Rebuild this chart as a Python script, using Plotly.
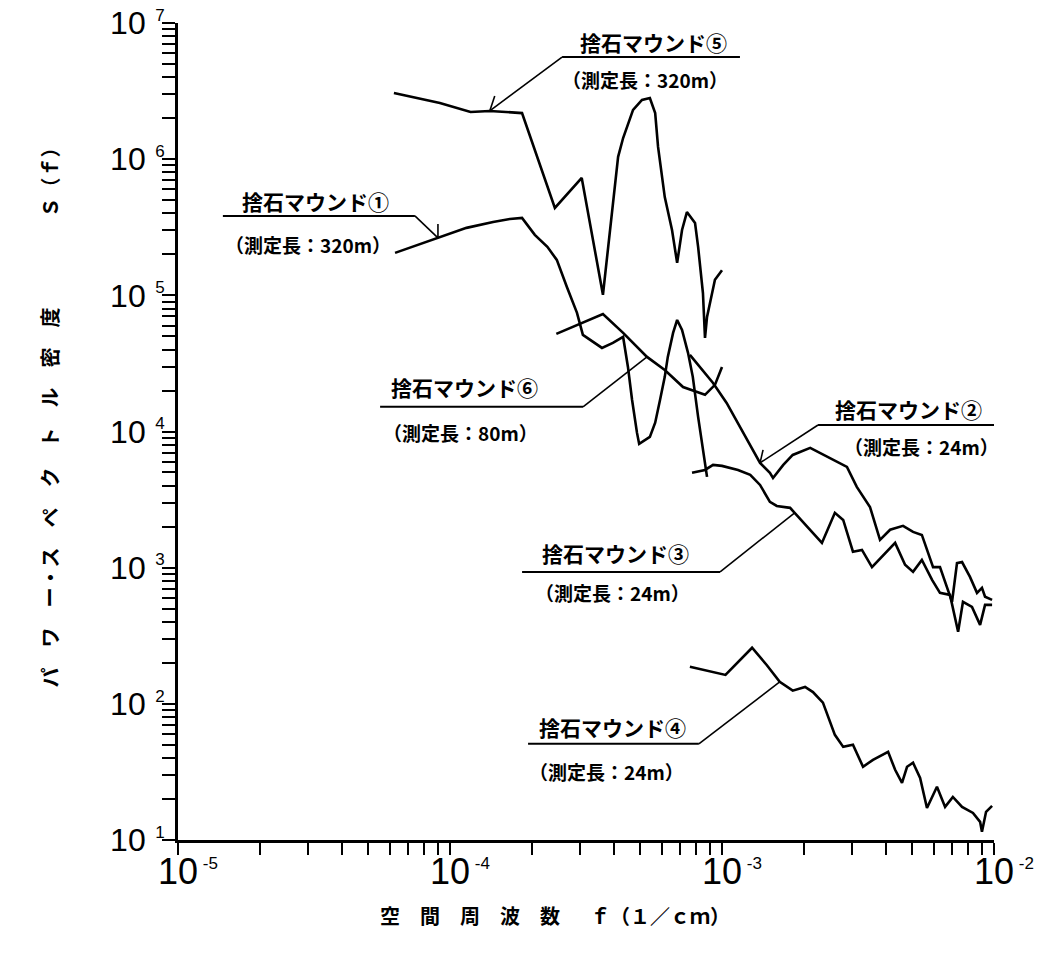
import math
import plotly.graph_objects as go

# ---------------- data: spatial frequency f [1/cm] and power spectral density S(f) ----------------
# 捨石マウンド① (測定長 320m)
f_m1 = [6.28e-5, 7.57e-5, 9.03e-5, 1.15e-4, 1.44e-4, 1.66e-4, 1.84e-4, 2.05e-4, 2.28e-4, 2.47e-4,
        2.69e-4, 2.93e-4, 3.08e-4, 3.62e-4, 3.97e-4, 4.33e-4, 4.51e-4, 4.67e-4, 4.87e-4, 4.96e-4,
        5.43e-4, 5.68e-4, 5.92e-4, 6.16e-4, 6.32e-4, 6.61e-4, 6.84e-4, 7.13e-4, 7.50e-4, 7.81e-4,
        8.17e-4, 8.51e-4, 8.81e-4]
S_m1 = [2.05e5, 2.34e5, 2.64e5, 3.13e5, 3.46e5, 3.64e5, 3.70e5, 2.78e5, 2.27e5, 1.82e5,
        1.15e5, 7.43e4, 5.12e4, 4.11e4, 4.47e4, 4.95e4, 2.98e4, 1.71e4, 9.77e3, 8.11e3,
        9.12e3, 1.16e4, 1.71e4, 2.52e4, 3.53e4, 5.30e4, 6.59e4, 5.57e4, 3.78e4, 2.52e4,
        1.28e4, 7.33e3, 4.64e3]

# 捨石マウンド② (測定長 24m)
f_m2 = [7.62e-4, 9.27e-4, 1.04e-3, 1.165e-3, 1.38e-3, 1.50e-3, 1.54e-3, 1.68e-3, 1.82e-3, 2.11e-3,
        2.49e-3, 2.88e-3, 3.13e-3, 3.50e-3, 3.81e-3, 4.15e-3, 4.63e-3, 5.04e-3, 5.43e-3, 5.67e-3,
        5.97e-3, 6.33e-3, 6.72e-3, 7.01e-3, 7.31e-3, 7.63e-3, 8.16e-3, 8.66e-3, 9.03e-3, 9.27e-3,
        9.84e-3]
S_m2 = [3.65e4, 2.27e4, 1.62e4, 1.08e4, 5.88e3, 4.97e3, 4.56e3, 5.69e3, 6.73e3, 7.58e3,
        6.40e3, 5.50e3, 3.92e3, 2.79e3, 1.60e3, 1.90e3, 2.03e3, 1.83e3, 1.74e3, 1.35e3,
        1.01e3, 1.01e3, 723, 561, 1.08e3, 1.10e3, 855, 653, 711, 611,
        580]

# 捨石マウンド③ (測定長 24m)
f_m3 = [7.76e-4, 8.66e-4, 9.27e-4, 1.00e-3, 1.145e-3, 1.27e-3, 1.38e-3, 1.50e-3, 1.59e-3, 1.78e-3,
        1.85e-3, 2.33e-3, 2.60e-3, 2.79e-3, 3.03e-3, 3.27e-3, 3.56e-3, 3.97e-3, 4.33e-3, 4.71e-3,
        5.04e-3, 5.43e-3, 5.92e-3, 6.33e-3, 6.89e-3, 7.38e-3, 7.69e-3, 8.30e-3, 8.89e-3, 9.27e-3,
        9.84e-3]
S_m3 = [4.97e3, 5.22e3, 5.69e3, 5.59e3, 5.22e3, 4.80e3, 4.05e3, 3.04e3, 2.84e3, 2.75e3,
        2.53e3, 1.52e3, 2.53e3, 2.24e3, 1.31e3, 1.35e3, 1.01e3, 1.28e3, 1.52e3, 1.05e3,
        931, 1.14e3, 813, 653, 631, 338, 561, 515, 380, 533,
        533]

# 捨石マウンド④ (測定長 24m)
f_m4 = [7.62e-4, 9.04e-4, 1.03e-3, 1.29e-3, 1.46e-3, 1.63e-3, 1.82e-3, 2.02e-3, 2.16e-3, 2.35e-3,
        2.45e-3, 2.60e-3, 2.79e-3, 3.03e-3, 3.30e-3, 3.59e-3, 4.08e-3, 4.33e-3, 4.59e-3, 4.79e-3,
        5.04e-3, 5.35e-3, 5.67e-3, 6.17e-3, 6.61e-3, 7.06e-3, 7.63e-3, 8.37e-3, 8.89e-3, 9.03e-3,
        9.35e-3, 9.84e-3]
S_m4 = [187, 172, 163, 258, 193, 145, 125, 133, 122, 102,
        80.3, 59.2, 48.3, 50.0, 34.5, 38.8, 44.4, 32.8, 26.3, 34.5,
        36.9, 28.6, 17.2, 24.6, 17.5, 20.7, 17.5, 15.8, 13.6, 11.5,
        16.1, 17.8]

# 捨石マウンド⑤ (測定長 320m)
f_m5 = [6.22e-5, 7.31e-5, 9.18e-5, 1.19e-4, 1.40e-4, 1.84e-4, 2.43e-4, 3.05e-4, 3.65e-4, 4.15e-4,
        4.33e-4, 4.71e-4, 5.08e-4, 5.43e-4, 5.68e-4, 5.82e-4, 6.16e-4, 6.55e-4, 6.84e-4, 7.13e-4,
        7.43e-4, 7.96e-4, 8.17e-4, 8.51e-4, 8.66e-4, 8.81e-4, 9.18e-4, 9.42e-4, 1.00e-3]
S_m5 = [3.06e6, 2.86e6, 2.59e6, 2.22e6, 2.26e6, 2.18e6, 4.38e5, 7.28e5, 1.01e5, 1.04e6,
        1.43e6, 2.30e6, 2.72e6, 2.81e6, 2.18e6, 1.23e6, 5.27e5, 3.02e5, 1.73e5, 3.02e5,
        4.09e5, 3.40e5, 2.27e5, 1.04e5, 4.87e4, 6.94e4, 1.04e5, 1.30e5, 1.53e5]

# 捨石マウンド⑥ (測定長 80m)
f_m6 = [2.46e-4, 3.01e-4, 3.65e-4, 4.33e-4, 5.30e-4, 6.16e-4, 7.19e-4, 8.66e-4, 9.42e-4, 1.00e-3]
S_m6 = [5.21e4, 6.17e4, 7.30e4, 5.30e4, 3.53e4, 2.83e4, 2.12e4, 1.86e4, 2.20e4, 2.98e4]

# ---------------- tick definitions ----------------
x_decades = [-5, -4, -3, -2]
y_decades = [1, 2, 3, 4, 5, 6, 7]
minor_digits = [1, 2, 3, 4, 5, 6, 7, 8, 9]

x_title = "空\u3000間\u3000周\u3000波\u3000数\u3000\u2002ｆ（１／ｃｍ）"
y_title = ("パ\u3000ワ\u3000ー・ス\u3000ペ\u3000ク\u3000ト\u3000ル\u3000密\u3000度"
           "\u3000\u3000\u3000\u3000\u2002Ｓ（ｆ）")

# ---------------- label layout (log10 positions) ----------------
series = {
    "①": (f_m1, S_m1), "②": (f_m2, S_m2), "③": (f_m3, S_m3),
    "④": (f_m4, S_m4), "⑤": (f_m5, S_m5), "⑥": (f_m6, S_m6),
}
# name, subtitle, tip index on curve, text pos, subtitle pos, underline (x0, x1, y), leader side, barb (dx, dy px)
labels = [
    ("⑤", "（測定長：320m）", 4, (-3.252, 6.860), (-3.283, 6.582), (-3.588, -2.934, 6.750), 0, (5, 15)),
    ("①", "（測定長：320m）", 2, (-4.494, 5.693), (-4.522, 5.370), (-4.835, -4.129, 5.583), 1, (0, 14)),
    ("⑥", "（測定長：80m）", 4, (-3.945, 4.327), (-3.963, 3.990), (-4.257, -3.511, 4.181), 1, (-12, -4)),
    ("②", "（測定長：24m）", 4, (-2.316, 4.166), (-2.265, 3.887), (-2.647, -1.989, 4.048), 0, (3, 13)),
    ("③", "（測定長：24m）", 10, (-3.390, 3.109), (-3.404, 2.815), (-3.735, -3.007, 2.969), 1, (-14, -4)),
    ("④", "（測定長：24m）", 5, (-3.404, 1.831), (-3.423, 1.501), (-3.713, -3.085, 1.706), 1, (-13, -4)),
]


def tick_set(decades, exp_px, gap, lead):
    vals, text = [], []
    for i, e in enumerate(decades):
        digits = minor_digits if i < len(decades) - 1 else [1]
        for m in digits:
            vals.append(m * 10.0 ** e)
            if m == 1:
                text.append('%s10<sup><span style="font-size:%dpx">%s%d</span></sup>'
                            % (lead, exp_px, gap, e))
            else:
                text.append("")
    return vals, text


fig = go.Figure()
for key in ["⑤", "①", "⑥", "②", "③", "④"]:
    fx, sy = series[key]
    fig.add_trace(go.Scatter(x=fx, y=sy, mode="lines",
                             line=dict(color="black", width=2.6),
                             hoverinfo="skip", showlegend=False))

shapes = []
annotations = []
cjk = "Noto Sans CJK JP"
for key, sub, tip_i, tpos, spos, uline, side, barb in labels:
    fx, sy = series[key]
    tip_x, tip_y = fx[tip_i], sy[tip_i]
    ux0, ux1, uy = uline
    shapes.append(dict(type="line", xref="x", yref="y",
                       x0=10 ** ux0, x1=10 ** ux1, y0=10 ** uy, y1=10 ** uy,
                       line=dict(color="black", width=2)))
    start_x = ux0 if side == 0 else ux1
    shapes.append(dict(type="line", xref="x", yref="y",
                       x0=10 ** start_x, y0=10 ** uy, x1=tip_x, y1=tip_y,
                       line=dict(color="black", width=1.6)))
    shapes.append(dict(type="line", xref="x", yref="y",
                       xsizemode="pixel", ysizemode="pixel",
                       xanchor=tip_x, yanchor=tip_y,
                       x0=0, y0=0, x1=barb[0], y1=barb[1],
                       line=dict(color="black", width=1.6)))
    annotations.append(dict(xref="x", yref="y", x=tpos[0], y=tpos[1],
                            text="<b>捨石マウンド%s</b>" % key, showarrow=False,
                            xanchor="center", yanchor="middle",
                            font=dict(family=cjk, size=21, color="black")))
    annotations.append(dict(xref="x", yref="y", x=spos[0], y=spos[1],
                            text="<b>%s</b>" % sub, showarrow=False,
                            xanchor="center", yanchor="middle",
                            font=dict(family=cjk, size=19, color="black")))

# axis titles
annotations.append(dict(xref="paper", yref="paper", x=0.462, y=-0.092,
                        text="<b>%s</b>" % x_title, showarrow=False,
                        xanchor="center", yanchor="middle",
                        font=dict(family=cjk, size=20, color="black")))
annotations.append(dict(xref="paper", yref="paper", x=-0.157, y=0.523,
                        text="<b>%s</b>" % y_title, showarrow=False, textangle=-90,
                        xanchor="center", yanchor="middle",
                        font=dict(family=cjk, size=20, color="black")))

xv, xt = tick_set(x_decades, 17, "\u00a0", "\u00a0\u00a0")
yv, yt = tick_set(y_decades, 17, "\u00a0\u00a0", "")

fig.update_layout(
    width=1043, height=957,
    margin=dict(l=178, r=49, t=23, b=117),
    paper_bgcolor="white", plot_bgcolor="white",
    showlegend=False,
    shapes=shapes, annotations=annotations,
    xaxis=dict(type="log", range=[-5, -2], showline=True, linecolor="black", linewidth=3,
               ticks="outside", ticklen=12, tickwidth=2, tickcolor="black",
               tickvals=xv, ticktext=xt, tickangle=0, ticklabelstandoff=-14,
               ticklabeloverflow="allow",
               tickfont=dict(family="Liberation Sans Narrow, Liberation Sans, sans-serif", size=36, color="black"),
               showgrid=False, zeroline=False, automargin=False),
    yaxis=dict(type="log", range=[1, 7], showline=True, linecolor="black", linewidth=3,
               ticks="outside", ticklen=13, tickwidth=2, tickcolor="black",
               tickvals=yv, ticktext=yt, ticklabelstandoff=-9,
               ticklabeloverflow="allow",
               tickfont=dict(family="Liberation Sans, sans-serif", size=32, color="black"),
               showgrid=False, zeroline=False, automargin=False),
)

fig.write_html("out.html",
               config={"displayModeBar": False, "staticPlot": True},
               post_script="document.body.style.margin='0';document.body.style.overflow='hidden';")
